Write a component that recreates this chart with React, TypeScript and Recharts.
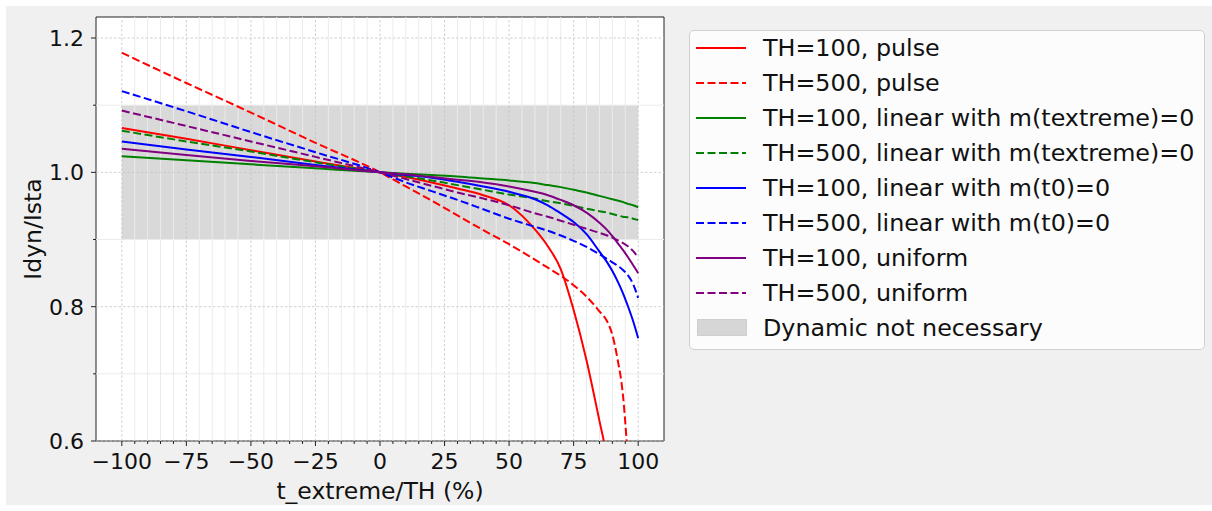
import React from 'react';
import { LineChart, Line, XAxis, YAxis, ReferenceArea, ReferenceLine, Label } from 'recharts';

// x positions of the samples (% of TH)
const X_PCT = [-100, -75, -50, -25, 0, 10, 20, 30, 40, 50, 60, 65, 70, 75, 80, 85, 88, 90, 92, 94, 96, 98, 100];

// Idyn/Ista, one list per curve
const PULSE_100 = [1.066, 1.05, 1.033, 1.016, 1.0, 0.993, 0.985, 0.976, 0.966, 0.951, 0.915, 0.89, 0.856, 0.795, 0.72, 0.63, 0.575, 0.53, null, null, null, null, null];
const PULSE_500 = [1.178, 1.133, 1.089, 1.044, 1.0, 0.979, 0.958, 0.936, 0.914, 0.893, 0.87, 0.858, 0.846, 0.832, 0.815, 0.793, 0.778, 0.758, 0.722, 0.672, 0.575, null, null];
const LIN_TEXT_100 = [1.024, 1.018, 1.012, 1.006, 1.0, 0.998, 0.996, 0.994, 0.991, 0.988, 0.984, 0.981, 0.978, 0.974, 0.97, 0.965, 0.962, 0.96, 0.958, 0.956, 0.953, 0.951, 0.948];
const LIN_TEXT_500 = [1.062, 1.046, 1.031, 1.015, 1.0, 0.994, 0.988, 0.981, 0.974, 0.967, 0.961, 0.957, 0.954, 0.95, 0.946, 0.942, 0.94, 0.938, 0.936, 0.934, 0.933, 0.931, 0.929];
const LIN_T0_100 = [1.046, 1.034, 1.023, 1.011, 1.0, 0.996, 0.992, 0.986, 0.979, 0.971, 0.96, 0.951, 0.939, 0.926, 0.908, 0.882, 0.866, 0.853, 0.838, 0.821, 0.801, 0.779, 0.753];
const LIN_T0_500 = [1.121, 1.091, 1.06, 1.03, 1.0, 0.985, 0.972, 0.959, 0.945, 0.931, 0.919, 0.913, 0.906, 0.898, 0.889, 0.878, 0.871, 0.866, 0.861, 0.855, 0.847, 0.834, 0.813];
const UNIF_100 = [1.035, 1.026, 1.017, 1.009, 1.0, 0.997, 0.993, 0.989, 0.985, 0.979, 0.971, 0.966, 0.959, 0.951, 0.94, 0.925, 0.914, 0.905, 0.895, 0.885, 0.874, 0.862, 0.85];
const UNIF_500 = [1.092, 1.069, 1.046, 1.023, 1.0, 0.99, 0.98, 0.97, 0.961, 0.951, 0.939, 0.934, 0.928, 0.922, 0.916, 0.91, 0.906, 0.903, 0.899, 0.895, 0.89, 0.883, 0.873];

const X_MAJOR = [-100, -75, -50, -25, 0, 25, 50, 75, 100];
const X_MINOR = [-95, -90, -85, -80, -70, -65, -60, -55, -45, -40, -35, -30, -20, -15, -10, -5, 5, 10, 15, 20, 30, 35, 40, 45, 55, 60, 65, 70, 80, 85, 90, 95];
const Y_MAJOR = [0.6, 0.8, 1.0, 1.2];
const Y_MINOR = [0.7, 0.9, 1.1];

const SHADE_X = [-100, 100];
const SHADE_Y = [0.9, 1.1];

const X_DOMAIN = [-110, 110];
const Y_DOMAIN = [0.6, 1.2313];

const SERIES = [
    { key: 'p100', name: 'TH=100, pulse', color: '#ff0000', dashed: false, values: PULSE_100 },
    { key: 'p500', name: 'TH=500, pulse', color: '#ff0000', dashed: true, values: PULSE_500 },
    { key: 'lt100', name: 'TH=100, linear with m(textreme)=0', color: '#008000', dashed: false, values: LIN_TEXT_100 },
    { key: 'lt500', name: 'TH=500, linear with m(textreme)=0', color: '#008000', dashed: true, values: LIN_TEXT_500 },
    { key: 'l0100', name: 'TH=100, linear with m(t0)=0', color: '#0000ff', dashed: false, values: LIN_T0_100 },
    { key: 'l0500', name: 'TH=500, linear with m(t0)=0', color: '#0000ff', dashed: true, values: LIN_T0_500 },
    { key: 'u100', name: 'TH=100, uniform', color: '#800080', dashed: false, values: UNIF_100 },
    { key: 'u500', name: 'TH=500, uniform', color: '#800080', dashed: true, values: UNIF_500 },
];

const data = X_PCT.map((x, i) => {
    const row: Record<string, number | null> = { x };
    SERIES.forEach(s => { row[s.key] = s.values[i]; });
    return row;
});

const FONT = '"DejaVu Sans", sans-serif';
const DASH = '8 3.5';

const fmtX = (v: number) => (v < 0 ? '\u2212' + Math.abs(v) : String(v));

const XTick = (props: any) => {
    const { x, y, payload } = props;
    const major = X_MAJOR.includes(payload.value);
    return (
        <g>
            <line x1={x} x2={x} y1={y} y2={y + (major ? 5 : 3)} stroke="#222" strokeWidth={1} />
            {major && (
                <text x={x} y={y + 28} textAnchor="middle" fontSize={22} fontFamily={FONT} fill="#111">
                    {fmtX(payload.value)}
                </text>
            )}
        </g>
    );
};

const YTick = (props: any) => {
    const { x, y, payload } = props;
    const major = Y_MAJOR.some(v => Math.abs(v - payload.value) < 1e-6);
    return (
        <g>
            <line x1={x - (major ? 5 : 3)} x2={x} y1={y} y2={y} stroke="#222" strokeWidth={1} />
            {major && (
                <text x={x - 12} y={y + 8} textAnchor="end" fontSize={22} fontFamily={FONT} fill="#111">
                    {payload.value.toFixed(1)}
                </text>
            )}
        </g>
    );
};

function LegendBox() {
    return (
        <div
            style={{
                position: 'absolute',
                left: 683,
                top: 24,
                width: 516,
                height: 320,
                boxSizing: 'border-box',
                background: '#fcfcfc',
                border: '1px solid #d0d0d0',
                borderRadius: 5,
                fontFamily: FONT,
                fontSize: 23.8,
                color: '#111',
                paddingTop: 0,
            }}
        >
            {SERIES.map(s => (
                <div key={s.key} style={{ display: 'flex', alignItems: 'center', height: 34.9, whiteSpace: 'nowrap' }}>
                    <svg width={51} height={20} style={{ marginLeft: 6, flex: 'none' }}>
                        <line x1={0} x2={50} y1={10} y2={10} stroke={s.color} strokeWidth={2} strokeDasharray={s.dashed ? DASH : undefined} />
                    </svg>
                    <span style={{ marginLeft: 16 }}>{s.name}</span>
                </div>
            ))}
            <div style={{ display: 'flex', alignItems: 'center', height: 34.9, whiteSpace: 'nowrap' }}>
                <div style={{ marginLeft: 7, width: 50, height: 17, background: '#d6d6d6', border: '1px solid #cfcfcf', boxSizing: 'border-box', flex: 'none' }} />
                <span style={{ marginLeft: 16 }}>Dynamic not necessary</span>
            </div>
        </div>
    );
}

export default function App() {
    return (
        <div style={{ position: 'absolute', left: 6, top: 6, width: 1206, height: 499, background: '#f0f0f0' }}>
            <div style={{ position: 'absolute', left: 90, top: 11, width: 568, height: 424, background: '#fff' }} />
            <div style={{ position: 'absolute', left: 0, top: 0 }}>
                <LineChart width={680} height={499} data={data} margin={{ top: 11, right: 22, bottom: 0, left: 0 }}>
                    <XAxis
                        dataKey="x"
                        type="number"
                        domain={X_DOMAIN}
                        ticks={[...X_MAJOR, ...X_MINOR].sort((a, b) => a - b)}
                        interval={0}
                        tick={<XTick />}
                        tickSize={0}
                        tickMargin={0}
                        tickLine={false}
                        axisLine={false}
                        height={64}
                    >
                        <Label value="t_extreme/TH (%)" position="insideBottom" offset={6} fontSize={23.5} fontFamily={FONT} fill="#111" />
                    </XAxis>
                    <YAxis
                        type="number"
                        domain={Y_DOMAIN}
                        allowDataOverflow
                        ticks={[...Y_MAJOR, ...Y_MINOR].sort((a, b) => a - b)}
                        interval={0}
                        tick={<YTick />}
                        tickSize={0}
                        tickMargin={0}
                        tickLine={false}
                        axisLine={false}
                        width={90}
                    >
                        <Label value="Idyn/Ista" angle={-90} position="center" dx={-18} fontSize={23.5} fontFamily={FONT} fill="#111" />
                    </YAxis>

                    {X_MINOR.map(v => (
                        <ReferenceLine key={'xm' + v} x={v} stroke="#ebebeb" strokeWidth={1} />
                    ))}
                    {Y_MINOR.map(v => (
                        <ReferenceLine key={'ym' + v} y={v} stroke="#ebebeb" strokeWidth={1} />
                    ))}
                    {X_MAJOR.map(v => (
                        <ReferenceLine key={'xM' + v} x={v} stroke="#c4c4c4" strokeWidth={0.8} strokeDasharray="2.5 2" />
                    ))}
                    {Y_MAJOR.map(v => (
                        <ReferenceLine key={'yM' + v} y={v} stroke="#c4c4c4" strokeWidth={0.8} strokeDasharray="2.5 2" />
                    ))}

                    <ReferenceArea x1={SHADE_X[0]} x2={SHADE_X[1]} y1={SHADE_Y[0]} y2={SHADE_Y[1]} fill="#808080" fillOpacity={0.3} stroke="none" />

                    {SERIES.map(s => (
                        <Line
                            key={s.key}
                            dataKey={s.key}
                            name={s.name}
                            type="monotone"
                            stroke={s.color}
                            strokeWidth={2}
                            strokeDasharray={s.dashed ? DASH : undefined}
                            dot={false}
                            activeDot={false}
                            connectNulls={false}
                            isAnimationActive={false}
                        />
                    ))}

                    <ReferenceArea x1={X_DOMAIN[0]} x2={X_DOMAIN[1]} y1={Y_DOMAIN[0]} y2={Y_DOMAIN[1]} fill="none" stroke="#222" strokeWidth={1} />
                </LineChart>
            </div>
            <LegendBox />
        </div>
    );
}
